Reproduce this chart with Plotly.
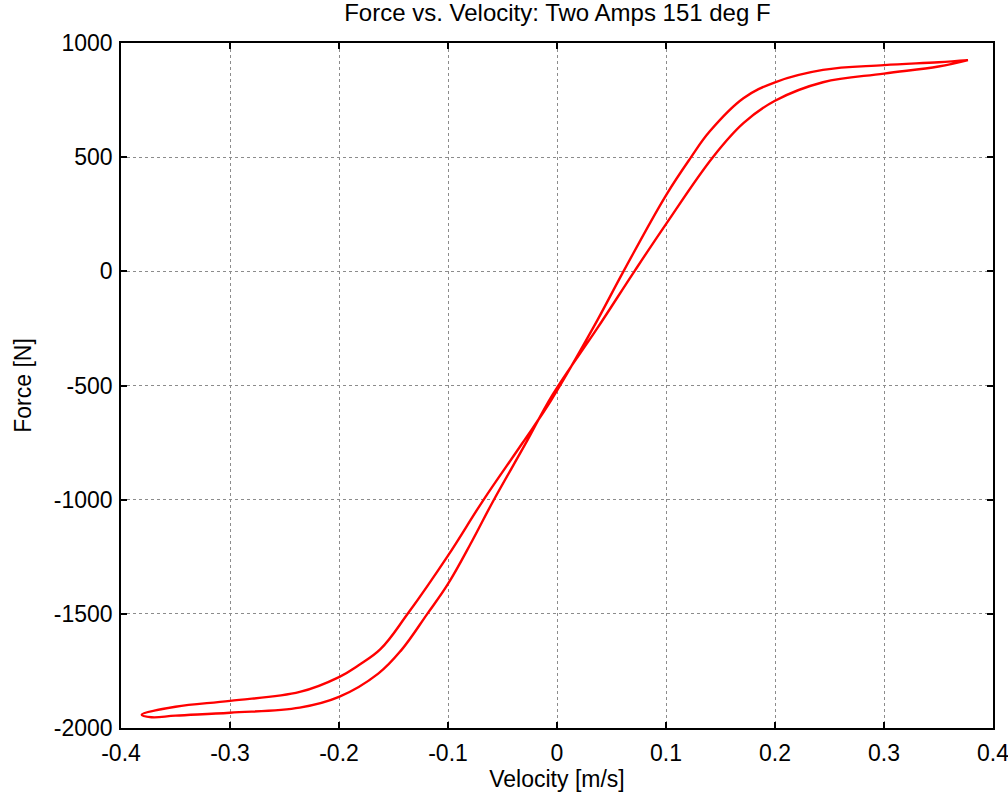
import plotly.graph_objects as go

# Lower (right-hand) branch, traced left -> right
lower_v = [-0.381, -0.372, -0.350, -0.300, -0.236, -0.200, -0.164, -0.143,
           -0.119, -0.100, -0.078, -0.059, -0.029, -0.004, 0.037, 0.071,
           0.100, 0.143, 0.171, 0.200, 0.244, 0.300, 0.350, 0.377]
lower_f = [-1942, -1953, -1946, -1933, -1911, -1864, -1762, -1660,
           -1500, -1369, -1182, -1010, -756, -540, -249, 0,
           207, 500, 649, 747, 828, 866, 897, 925]

# Upper (left-hand) branch, traced right -> left
upper_v = [0.377, 0.350, 0.300, 0.244, 0.200, 0.171, 0.140, 0.123, 0.100, 0.061,
           0.033, -0.006, -0.032, -0.068, -0.100, -0.137, -0.162, -0.182,
           -0.200, -0.236, -0.300, -0.350, -0.381]
upper_f = [925, 916, 903, 882, 828, 758, 612, 500, 333, 0,
           -249, -569, -754, -1005, -1245, -1500, -1655, -1725,
           -1777, -1842, -1881, -1907, -1942]

x_ticks = [-0.4, -0.3, -0.2, -0.1, 0, 0.1, 0.2, 0.3, 0.4]
x_labels = ["-0.4", "-0.3", "-0.2", "-0.1", "0", "0.1", "0.2", "0.3", "0.4"]
y_ticks = [-2000, -1500, -1000, -500, 0, 500, 1000]
y_labels = ["-2000", "-1500", "-1000", "-500", "0", "500", "1000"]

fig = go.Figure()
fig.add_trace(go.Scatter(
    x=lower_v + upper_v, y=lower_f + upper_f, mode="lines",
    line=dict(color="#ff0000", width=2.4, shape="spline", smoothing=1.1),
    showlegend=False, hoverinfo="skip"))

FAM = "Liberation Sans, Arial, sans-serif"
font = dict(family=FAM, size=23, color="#000000")
axis_common = dict(
    showgrid=True, gridcolor="#8c8c8c", griddash="dot", gridwidth=1,
    showline=True, linecolor="#000000", linewidth=1.5, mirror="ticks",
    ticks="inside", ticklen=6, tickwidth=1.5, tickcolor="#000000",
    zeroline=False, tickfont=font, automargin=False,
    ticklabeloverflow="allow",
)

fig.update_layout(
    width=1008, height=795,
    margin=dict(l=121, r=15, t=43, b=67),
    paper_bgcolor="white", plot_bgcolor="white",
    title=dict(text="Force vs. Velocity: Two Amps 151 deg F",
               font=dict(family=FAM, size=24, color="#000000"),
               x=0.553, xanchor="center", yref="container",
               y=1 - 13 / 795, yanchor="middle"),
    xaxis=dict(axis_common, range=[-0.4, 0.4], tickvals=x_ticks, ticktext=x_labels,
               ticklabelstandoff=4,
               title=dict(text="Velocity [m/s]", font=font, standoff=6)),
    yaxis=dict(axis_common, range=[-2000, 1000], tickvals=y_ticks, ticktext=y_labels,
               ticklabelstandoff=2,
               title=dict(text="Force [N]", font=font, standoff=16)),
)

fig.write_html("out.html")
